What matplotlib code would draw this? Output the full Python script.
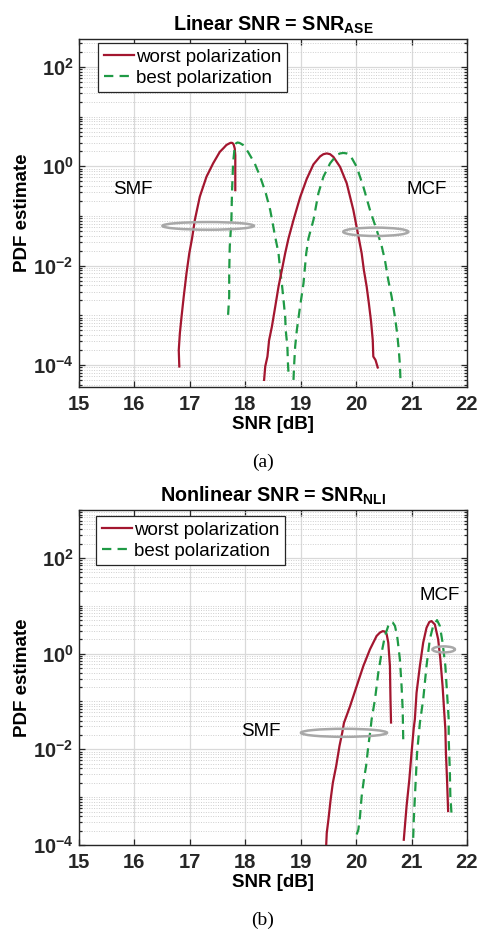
import numpy as np
import matplotlib
matplotlib.use("Agg")
import matplotlib.pyplot as plt
from matplotlib.patches import Ellipse
from matplotlib.ticker import FixedLocator, LogLocator, FuncFormatter, NullFormatter

# ---------- global style ----------
plt.rcParams['font.family'] = ['Liberation Sans', 'DejaVu Sans']
plt.rcParams['mathtext.fontset'] = 'custom'
plt.rcParams['mathtext.rm'] = 'Liberation Sans'
plt.rcParams['mathtext.bf'] = 'Liberation Sans:bold'
plt.rcParams['mathtext.it'] = 'Liberation Sans:italic'
fs = 13.5
fs_tick = 14.5

# ---------- data (SNR in dB, PDF given as log10 values) ----------
# (a) linear SNR = SNR_ASE
a_smf_worst_x = [16.81, 16.80, 16.82, 16.85, 16.89, 16.94, 16.99, 17.04, 17.09, 17.18, 17.30,
                 17.42, 17.54, 17.61, 17.66, 17.71, 17.74, 17.77, 17.79, 17.81, 17.82, 17.82]
a_smf_worst_log = [-4.03, -3.70, -3.36, -3.03, -2.62, -2.15, -1.75, -1.45, -1.08, -0.61, -0.21,
                   0.06, 0.29, 0.37, 0.43, 0.46, 0.475, 0.47, 0.44, 0.36, 0.22, -0.48]
a_smf_best_x = [17.69, 17.71, 17.71, 17.72, 17.75, 17.76, 17.78, 17.81, 17.83, 17.86, 17.90,
                17.96, 18.05, 18.17, 18.27, 18.37, 18.45, 18.54, 18.60, 18.63, 18.66, 18.69,
                18.72, 18.73, 18.76, 18.77, 18.78]
a_smf_best_log = [-2.99, -2.62, -2.15, -1.62, -1.08, -0.54, 0.06, 0.40, 0.46, 0.48, 0.47,
                  0.43, 0.29, 0.06, -0.21, -0.54, -0.88, -1.42, -1.75, -2.09, -2.36, -2.69,
                  -3.03, -3.30, -3.63, -3.97, -4.16]
a_mcf_worst_x = [18.34, 18.36, 18.40, 18.43, 18.48, 18.54, 18.60, 18.66, 18.72, 18.78, 18.87,
                 18.99, 19.11, 19.23, 19.35, 19.41, 19.47, 19.53, 19.59, 19.71, 19.83, 19.95,
                 20.04, 20.10, 20.14, 20.19, 20.23, 20.27, 20.30, 20.31, 20.35, 20.39]
a_mcf_worst_log = [-4.30, -4.03, -3.83, -3.50, -3.23, -2.83, -2.42, -2.09, -1.75, -1.45, -1.08,
                   -0.62, -0.25, 0.04, 0.20, 0.245, 0.26, 0.245, 0.19, -0.01, -0.34, -0.88,
                   -1.40, -1.75, -2.09, -2.42, -2.76, -3.13, -3.50, -3.83, -3.90, -4.05]
a_mcf_best_x = [18.87, 18.88, 18.90, 18.93, 18.98, 19.05, 19.10, 19.14, 19.23, 19.32, 19.41,
                19.53, 19.65, 19.71, 19.77, 19.83, 19.89, 20.01, 20.13, 20.25, 20.37, 20.46,
                20.52, 20.58, 20.64, 20.70, 20.74, 20.77, 20.79, 20.80, 20.86]
a_mcf_best_log = [-4.30, -4.03, -3.63, -3.30, -2.89, -2.36, -1.75, -1.45, -1.08, -0.54, -0.21,
                  0.06, 0.23, 0.26, 0.27, 0.26, 0.23, -0.01, -0.41, -0.88, -1.28, -1.60,
                  -1.89, -2.29, -2.62, -3.03, -3.36, -3.70, -4.00, -4.30, -4.30]

# (b) nonlinear SNR = SNR_NLI
b_smf_worst_x = [19.46, 19.47, 19.50, 19.54, 19.58, 19.64, 19.70, 19.75, 19.78, 19.89, 20.01,
                 20.13, 20.25, 20.37, 20.43, 20.48, 20.52, 20.55, 20.58, 20.61, 20.62, 20.63]
b_smf_worst_log = [-4.00, -3.75, -3.47, -3.05, -2.70, -2.35, -1.93, -1.65, -1.45, -1.10, -0.68,
                   -0.26, 0.09, 0.37, 0.44, 0.47, 0.46, 0.41, 0.23, -0.26, -0.96, -1.44]
b_smf_best_x = [20.01, 20.04, 20.07, 20.10, 20.14, 20.18, 20.22, 20.26, 20.28, 20.34, 20.40,
                20.46, 20.52, 20.58, 20.62, 20.66, 20.70, 20.74, 20.79, 20.82, 20.84, 20.85]
b_smf_best_log = [-3.78, -3.68, -3.40, -2.98, -2.63, -2.35, -1.93, -1.58, -1.37, -0.96, -0.40,
                  0.02, 0.37, 0.58, 0.66, 0.65, 0.58, 0.37, -0.12, -0.68, -1.17, -1.79]
b_mcf_worst_x = [20.86, 20.88, 20.91, 20.96, 21.00, 21.04, 21.06, 21.09, 21.15, 21.21, 21.27,
                 21.32, 21.36, 21.42, 21.48, 21.52, 21.56, 21.59, 21.61, 21.62, 21.64, 21.66]
b_mcf_worst_log = [-3.89, -3.61, -3.19, -2.63, -2.07, -1.55, -1.37, -0.82, -0.26, 0.23, 0.54,
                   0.66, 0.68, 0.61, 0.30, -0.12, -0.68, -1.23, -1.58, -2.07, -2.63, -3.29]
b_mcf_best_x = [21.03, 21.04, 21.07, 21.10, 21.15, 21.21, 21.27, 21.33, 21.39, 21.46, 21.51,
                21.56, 21.61, 21.64, 21.67, 21.67, 21.69, 21.70, 21.72]
b_mcf_best_log = [-3.85, -3.47, -2.77, -2.07, -1.45, -0.96, -0.26, 0.30, 0.58, 0.70, 0.58,
                  0.23, -0.26, -0.82, -1.37, -1.79, -2.42, -2.98, -3.33]

x_ticks = [15, 16, 17, 18, 19, 20, 21, 22]
y_ticks = [1e-4, 1e-2, 1e0, 1e2]
legend_labels = ['worst polarization', 'best polarization']

c_worst = '#a3162f'
c_best = '#1f9a45'
c_ell = '#a8a8a8'
dash = (0, (4.2, 2.8))

# ---------- figure ----------
fig = plt.figure(figsize=(4.79, 9.33), dpi=100)
ax_a = fig.add_axes([0.1649, 0.5852, 0.810, 0.373])
ax_b = fig.add_axes([0.1649, 0.0943, 0.810, 0.359])


def style_axes(ax, ylim, title):
    ax.set_yscale('log')
    ax.set_xlim(15, 22)
    ax.set_ylim(*ylim)
    ax.xaxis.set_major_locator(FixedLocator(x_ticks))
    ax.yaxis.set_major_locator(FixedLocator(y_ticks))
    ax.yaxis.set_minor_locator(LogLocator(base=10, subs=np.arange(1, 10), numticks=60))
    ax.yaxis.set_minor_formatter(NullFormatter())
    ax.yaxis.set_major_formatter(FuncFormatter(
        lambda v, p: r'$\mathbf{10^{%d}}$' % int(round(np.log10(v)))))
    ax.xaxis.set_major_formatter(FuncFormatter(lambda v, p: '%d' % v))
    for lab in ax.get_xticklabels():
        lab.set_fontweight('bold')
    ax.tick_params(which='both', direction='in', top=True, right=True,
                   colors='#262626', width=0.9)
    ax.tick_params(which='major', length=4, labelsize=fs_tick, pad=4)
    ax.tick_params(axis='x', which='major', pad=6)
    ax.tick_params(which='minor', length=2.5)
    ax.grid(True, which='major', color='#d9d9d9', linewidth=0.9, linestyle='-')
    ax.grid(True, which='minor', axis='y', color='#cfcfcf', linewidth=0.7, linestyle=(0, (1, 1.5)))
    ax.set_axisbelow(True)
    for sp in ax.spines.values():
        sp.set_color('#262626')
        sp.set_linewidth(1.0)
    ax.set_xlabel('SNR [dB]', fontsize=fs, fontweight='bold', labelpad=1)
    ax.set_ylabel('PDF estimate', fontsize=fs, fontweight='bold', labelpad=1)
    ax.set_title(title, fontsize=14.2, fontweight='bold', pad=6)


def draw_pair(ax, xw, lw_, xb, lb_):
    hw, = ax.plot(xw, np.power(10.0, lw_), color=c_worst, lw=1.6, zorder=3)
    hb, = ax.plot(xb, np.power(10.0, lb_), color=c_best, lw=1.6, linestyle=dash, zorder=3)
    return hw, hb


def add_legend(ax, hw, hb, anchor):
    leg = ax.legend([hw, hb], legend_labels, loc='upper left', bbox_to_anchor=anchor,
                    borderaxespad=0, fontsize=fs, frameon=True, fancybox=False, framealpha=1,
                    edgecolor='#262626', handlelength=1.6, handletextpad=0.15,
                    labelspacing=0.22, borderpad=0.3)
    leg.get_frame().set_linewidth(0.9)


# ----- panel (a) -----
style_axes(ax_a, (10 ** -4.443, 10 ** 2.564), r'Linear SNR = SNR$_{\mathbf{ASE}}$')
hw, hb = draw_pair(ax_a, a_smf_worst_x, a_smf_worst_log, a_smf_best_x, a_smf_best_log)
draw_pair(ax_a, a_mcf_worst_x, a_mcf_worst_log, a_mcf_best_x, a_mcf_best_log)
ax_a.add_patch(Ellipse((0.333, 0.463), 0.236, 0.022, transform=ax_a.transAxes,
                       fill=False, edgecolor=c_ell, lw=1.8, zorder=4))
ax_a.add_patch(Ellipse((0.765, 0.446), 0.168, 0.024, transform=ax_a.transAxes,
                       fill=False, edgecolor=c_ell, lw=1.8, zorder=4))
ax_a.text(0.087, 0.568, 'SMF', transform=ax_a.transAxes, fontsize=fs, va='center', ha='left')
ax_a.text(0.843, 0.568, 'MCF', transform=ax_a.transAxes, fontsize=fs, va='center', ha='left')
add_legend(ax_a, hw, hb, (0.049, 0.989))

# ----- panel (b) -----
style_axes(ax_b, (1e-4, 1e3), r'Nonlinear SNR = SNR$_{\mathbf{NLI}}$')
hw, hb = draw_pair(ax_b, b_smf_worst_x, b_smf_worst_log, b_smf_best_x, b_smf_best_log)
draw_pair(ax_b, b_mcf_worst_x, b_mcf_worst_log, b_mcf_best_x, b_mcf_best_log)
ax_b.add_patch(Ellipse((0.683, 0.335), 0.222, 0.024, transform=ax_b.transAxes,
                       fill=False, edgecolor=c_ell, lw=1.8, zorder=4))
ax_b.add_patch(Ellipse((0.940, 0.584), 0.058, 0.018, transform=ax_b.transAxes,
                       fill=False, edgecolor=c_ell, lw=1.8, zorder=4))
ax_b.text(0.417, 0.338, 'SMF', transform=ax_b.transAxes, fontsize=fs, va='center', ha='left')
ax_b.text(0.877, 0.746, 'MCF', transform=ax_b.transAxes, fontsize=fs, va='center', ha='left')
add_legend(ax_b, hw, hb, (0.044, 0.983))

# captions
fig.text(263 / 479, 1 - 462 / 933, '(a)', family='Liberation Serif', fontsize=14,
         ha='center', va='center')
fig.text(263 / 479, 1 - 920 / 933, '(b)', family='Liberation Serif', fontsize=14,
         ha='center', va='center')

fig.savefig('out.png', dpi=100)
